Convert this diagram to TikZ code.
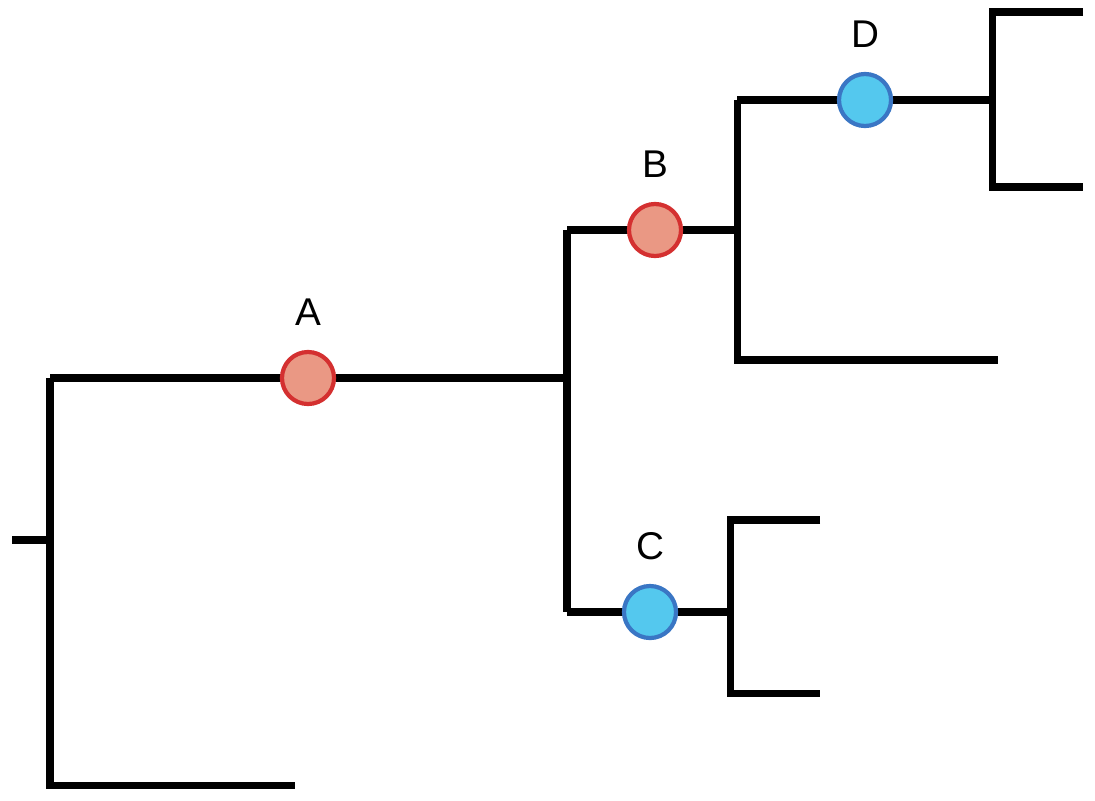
\documentclass[tikz,border=0pt]{standalone}
\usepackage{fontspec}
\setmainfont{Liberation Sans}
\usetikzlibrary{positioning}
\definecolor{redfill}{RGB}{234,152,132}
\definecolor{redline}{RGB}{212,48,48}
\definecolor{bluefill}{RGB}{84,200,238}
\definecolor{blueline}{RGB}{58,118,196}
\tikzset{
  branch/.style={line width=2pt, line cap=butt},
  redmark/.style={draw=redline, fill=redfill, circle, line width=1.2pt, minimum size=0.52cm, inner sep=0pt},
  bluemark/.style={draw=blueline, fill=bluefill, circle, line width=1.2pt, minimum size=0.52cm, inner sep=0pt},
  tag/.style={font=\fontsize{11}{13}\selectfont}
}
\begin{document}
\begin{tikzpicture}[x=0.01cm, y=-0.01cm]
\useasboundingbox (0,0) rectangle (1095,800);
% junctions and leaves
\coordinate (r0) at (12,540);
\coordinate (r1) at (50,540);
\coordinate (rt) at (50,378);
\coordinate (rb) at (50,785);
\coordinate (l1) at (295,785);
\coordinate (s1) at (567,378);
\coordinate (st) at (567,230);
\coordinate (sb) at (567,612);
\coordinate (t1) at (737,230);
\coordinate (tt) at (737,100);
\coordinate (tb) at (737,360);
\coordinate (l2) at (998,360);
\coordinate (u1) at (992,100);
\coordinate (ut) at (992,12);
\coordinate (ub) at (992,187);
\coordinate (l3) at (1083,12);
\coordinate (l4) at (1083,187);
\coordinate (v1) at (730,612);
\coordinate (vt) at (730,520);
\coordinate (vb) at (730,693);
\coordinate (l5) at (820,520);
\coordinate (l6) at (820,693);
% tree
\draw[branch] (r0) -- (r1);
\draw[branch] (rt) -- (rb) -- (l1);
\draw[branch] (rt) -- (s1);
\draw[branch] (st) -- (sb);
\draw[branch] (st) -- (t1);
\draw[branch] (tt) -- (tb) -- (l2);
\draw[branch] (tt) -- (u1);
\draw[branch] (l3) -- (ut) -- (ub) -- (l4);
\draw[branch] (sb) -- (v1);
\draw[branch] (l5) -- (vt) -- (vb) -- (l6);
% marks
\node (A)[redmark] at (308,378) {};
\node (B)[redmark] at (655,230) {};
\node (C)[bluemark] at (650,612) {};
\node (D)[bluemark] at (865,100) {};
\node[tag, above=0.12cm of A] {A};
\node[tag, above=0.12cm of B] {B};
\node[tag, above=0.12cm of C] {C};
\node[tag, above=0.12cm of D] {D};
\end{tikzpicture}
\end{document}
